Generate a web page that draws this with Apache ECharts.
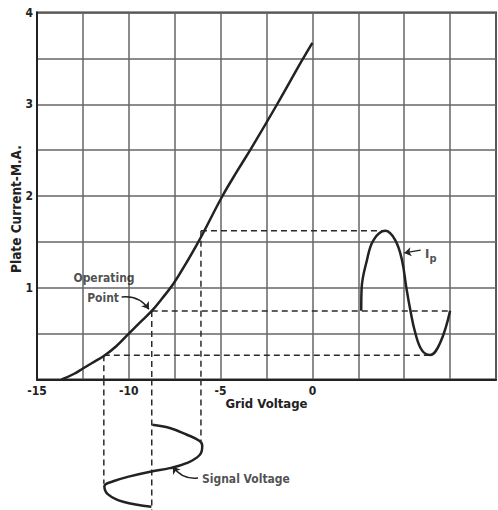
<!DOCTYPE html>
<html>
<head>
<meta charset="utf-8">
<script src="https://cdn.jsdelivr.net/npm/echarts@6/dist/echarts.min.js"></script>
<style>
html,body{margin:0;padding:0;background:#fff;}
#c{width:498px;height:510px;}
</style>
</head>
<body>
<div id="c"></div>
<script>
// Tube characteristic: grid voltage (V) vs plate current (mA)
const curveV = [-13.66, -13, -12.5, -12, -11.36, -10.7, -10, -9.4, -8.75, -8.2, -7.58, -6.9, -6.21, -5.94, -4.9, -4.1, -3.3, -1.92, -0.56, 0];
const curveI = [0, 0.06, 0.12, 0.18, 0.256, 0.36, 0.5, 0.62, 0.747, 0.88, 1.04, 1.26, 1.5, 1.6, 2.0, 2.27, 2.53, 3.0, 3.48, 3.67];

// Plate current waveform Ip (drawn on the right, time along x)
const ipV = [2.66, 2.68, 2.97, 3.33, 3.97, 4.51, 4.88, 5.11, 5.33, 5.6, 5.96, 6.41, 6.96, 7.5];
const ipI = [0.75, 0.99, 1.30, 1.52, 1.62, 1.52, 1.30, 1.01, 0.76, 0.51, 0.32, 0.267, 0.40, 0.75];

// Signal voltage waveform (below the axis, time downward)
const sigV = [-8.72, -7.77, -6.86, -6.14, -6.0, -6.14, -6.86, -7.77, -8.77, -9.95, -10.85, -11.33, -11.13, -10.31, -8.77];
const sigT = [0, 0.04, 0.12, 0.2, 0.26, 0.37, 0.47, 0.53, 0.57, 0.63, 0.69, 0.75, 0.85, 0.94, 1.0];

// Projection lines: grid voltage, plate current, end on Ip waveform, end in signal time
const projV = [-11.36, -8.75, -6.07];
const projI = [0.265, 0.747, 1.62];
const projEndV = [6.41, 7.5, 3.97];
const projEndT = [0.72, 1.04, 0.2];

const xTickLabels = [-15, -10, -5, 0];
const yTickLabels = [1, 2, 3, 4];

const FONT = '"DejaVu Sans Condensed", "Liberation Sans Narrow", "Roboto Condensed", "DejaVu Sans", sans-serif';
const INK = '#222';
const dash = { color: '#2a2a2a', width: 1.5, type: [6, 4] };

const zip = (a, b) => a.map((v, i) => [v, b[i]]);

const series = [];
series.push({
  type: 'line', xAxisIndex: 0, yAxisIndex: 0, data: zip(curveV, curveI),
  smooth: 0.4, symbol: 'none', lineStyle: { color: INK, width: 2.5 }, z: 5
});
series.push({
  type: 'line', xAxisIndex: 0, yAxisIndex: 0, data: zip(ipV, ipI),
  smooth: 0.4, symbol: 'none', lineStyle: { color: INK, width: 2.5 }, z: 5
});
series.push({
  type: 'line', xAxisIndex: 1, yAxisIndex: 1, data: zip(sigV, sigT),
  smooth: 0.4, symbol: 'none', lineStyle: { color: INK, width: 2.5 }, z: 5
});
projV.forEach((v, i) => {
  series.push({ type: 'line', xAxisIndex: 0, yAxisIndex: 0, symbol: 'none',
    data: [[v, projI[i]], [projEndV[i], projI[i]]], lineStyle: dash, z: 4 });
  series.push({ type: 'line', xAxisIndex: 0, yAxisIndex: 0, symbol: 'none',
    data: [[v, projI[i]], [v, 0]], lineStyle: dash, z: 4 });
  series.push({ type: 'line', xAxisIndex: 1, yAxisIndex: 1, symbol: 'none',
    data: [[v, -0.55], [v, projEndT[i]]], lineStyle: dash, z: 4 });
});

const labelStyle = { show: true, position: 'inside', color: INK, fontFamily: FONT, fontWeight: 'bold', fontSize: 12,
  formatter: p => p.value[2],
  rich: { i: { fontFamily: FONT, fontWeight: 'bold', fontSize: 13, color: INK },
          p: { fontFamily: FONT, fontWeight: 'bold', fontSize: 11, color: INK, padding: [9, 0, 0, 0] } } };
series.push({ type: 'scatter', xAxisIndex: 0, yAxisIndex: 0, symbolSize: 0.01,
  itemStyle: { color: 'rgba(0,0,0,0)' }, label: labelStyle, silent: true, z: 6,
  data: [[-11.35, 1.11, 'Operating'], [-11.4, 0.89, 'Point'], [6.45, 1.37, '{i|I}{p|p}']] });
series.push({ type: 'scatter', xAxisIndex: 1, yAxisIndex: 1, symbolSize: 0.01,
  itemStyle: { color: 'rgba(0,0,0,0)' }, label: labelStyle, silent: true, z: 6,
  data: [[-3.62, 0.66, 'Signal Voltage']] });

series.push({ type: 'lines', coordinateSystem: 'cartesian2d', xAxisIndex: 0, yAxisIndex: 0, z: 6,
  symbol: ['none', 'arrow'], symbolSize: 7,
  lineStyle: { color: INK, width: 1.5, curveness: 0.3, opacity: 1 },
  data: [{ coords: [[-10.39, 0.9], [-8.9, 0.765]] }] });
series.push({ type: 'lines', coordinateSystem: 'cartesian2d', xAxisIndex: 0, yAxisIndex: 0, z: 6,
  symbol: ['none', 'arrow'], symbolSize: 7,
  lineStyle: { color: INK, width: 1.5, curveness: 0, opacity: 1 },
  data: [{ coords: [[5.9, 1.41], [5.0, 1.38]] }] });
series.push({ type: 'lines', coordinateSystem: 'cartesian2d', xAxisIndex: 1, yAxisIndex: 1, z: 6,
  symbol: ['none', 'arrow'], symbolSize: 7,
  lineStyle: { color: INK, width: 1.5, curveness: 0.3, opacity: 1 },
  data: [{ coords: [[-6.23, 0.65], [-7.6, 0.51]] }] });

const chart = echarts.init(document.getElementById('c'), null, { renderer: 'svg' });
chart.setOption({
  animation: false,
  backgroundColor: '#fff',
  grid: [
    { left: 37, right: 2, top: 12.5, height: 367, show: true, borderColor: '#333', borderWidth: 2,
      containLabel: false, outerBoundsMode: 'none' },
    { left: 37, right: 2, top: 379.5, bottom: 0, containLabel: false, outerBoundsMode: 'none' }
  ],
  xAxis: [
    { type: 'value', gridIndex: 0, min: -15, max: 10, interval: 2.5,
      name: 'Grid Voltage', nameLocation: 'middle', nameGap: 17, nameMoveOverlap: false,
      nameTextStyle: { fontFamily: FONT, fontWeight: 'bold', fontSize: 13, color: INK },
      axisLine: { show: true, onZero: false, lineStyle: { color: INK, width: 2 } },
      axisTick: { show: false },
      splitLine: { show: true, lineStyle: { color: '#666', width: 1.5 } },
      axisLabel: { margin: 5, color: INK, fontFamily: FONT, fontWeight: 'bold', fontSize: 12,
        showMinLabel: true, showMaxLabel: true,
        formatter: v => xTickLabels.includes(v) ? String(v) : '' } },
    { type: 'value', gridIndex: 1, min: -15, max: 10, show: false }
  ],
  yAxis: [
    { type: 'value', gridIndex: 0, min: 0, max: 4, interval: 0.5,
      name: 'Plate Current-M.A.', nameLocation: 'middle', nameGap: 14, nameMoveOverlap: false,
      nameTextStyle: { fontFamily: FONT, fontWeight: 'bold', fontSize: 13.5, color: INK, padding: [0, 26, 0, 0] },
      axisLine: { show: true, onZero: false, lineStyle: { color: INK, width: 2 } },
      axisTick: { show: false },
      splitLine: { show: true, lineStyle: { color: '#666', width: 1.5 } },
      axisLabel: { margin: 4, color: INK, fontFamily: FONT, fontWeight: 'bold', fontSize: 12,
        formatter: v => yTickLabels.includes(v) ? String(v) : '' } },
    { type: 'value', gridIndex: 1, min: -0.55, max: 1.04, inverse: true, show: false }
  ],
  series: series
});
</script>
</body>
</html>
